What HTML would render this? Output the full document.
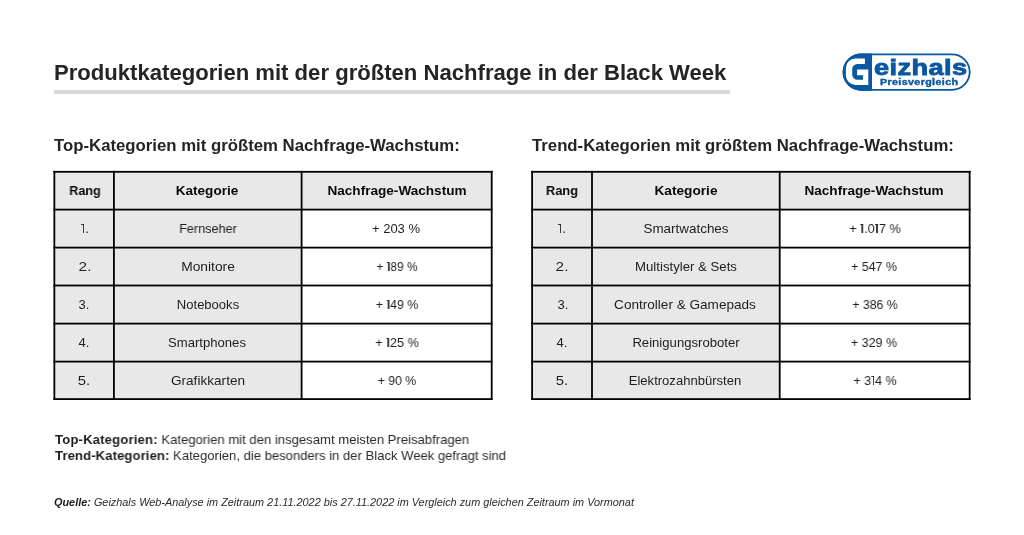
<!DOCTYPE html>
<html><head><meta charset="utf-8">
<style>
html,body{margin:0;padding:0;background:#fff;}
body{width:1024px;height:535px;position:relative;overflow:hidden;font-family:"Liberation Sans",sans-serif;}
.t{position:absolute;white-space:pre;line-height:1;will-change:transform;}
.d1{display:inline-block;position:relative;width:4.1px;height:9.3px;}
.d1::before{content:"";position:absolute;left:1.6px;top:0;width:1.2px;height:100%;background:currentColor;opacity:.85;}
.d1::after{content:"";position:absolute;left:0.3px;top:0.1px;width:2.4px;height:1.2px;background:currentColor;opacity:.85;}
.lines,.logo{position:absolute;left:0;top:0;}
.bar{position:absolute;left:53.6px;top:90px;width:676.2px;height:3.8px;background:#d9d9d9;}
</style></head><body>
<svg class="lines" width="1024" height="535" viewBox="0 0 1024 535"><rect x="54.35" y="171.8" width="247.25" height="227.30" fill="#e8e8e8"/><rect x="301.6" y="171.8" width="190.10" height="37.80" fill="#e8e8e8"/><rect x="53.45" y="170.90" width="1.8" height="229.10" fill="#000"/><rect x="113.00" y="170.90" width="1.8" height="229.10" fill="#000"/><rect x="300.70" y="170.90" width="1.8" height="229.10" fill="#000"/><rect x="490.80" y="170.90" width="1.8" height="229.10" fill="#000"/><rect x="53.45" y="170.90" width="439.15" height="1.8" fill="#000"/><rect x="53.45" y="208.70" width="439.15" height="1.8" fill="#000"/><rect x="53.45" y="246.70" width="439.15" height="1.8" fill="#000"/><rect x="53.45" y="284.60" width="439.15" height="1.8" fill="#000"/><rect x="53.45" y="322.70" width="439.15" height="1.8" fill="#000"/><rect x="53.45" y="360.70" width="439.15" height="1.8" fill="#000"/><rect x="53.45" y="398.20" width="439.15" height="1.8" fill="#000"/><rect x="532.1" y="171.8" width="247.60" height="227.30" fill="#e8e8e8"/><rect x="779.7" y="171.8" width="189.95" height="37.80" fill="#e8e8e8"/><rect x="531.20" y="170.90" width="1.8" height="229.10" fill="#000"/><rect x="591.10" y="170.90" width="1.8" height="229.10" fill="#000"/><rect x="778.80" y="170.90" width="1.8" height="229.10" fill="#000"/><rect x="968.75" y="170.90" width="1.8" height="229.10" fill="#000"/><rect x="531.20" y="170.90" width="439.35" height="1.8" fill="#000"/><rect x="531.20" y="208.70" width="439.35" height="1.8" fill="#000"/><rect x="531.20" y="246.70" width="439.35" height="1.8" fill="#000"/><rect x="531.20" y="284.60" width="439.35" height="1.8" fill="#000"/><rect x="531.20" y="322.70" width="439.35" height="1.8" fill="#000"/><rect x="531.20" y="360.70" width="439.35" height="1.8" fill="#000"/><rect x="531.20" y="398.20" width="439.35" height="1.8" fill="#000"/></svg>
<div class="bar"></div>
<svg class="logo" width="1024" height="535" viewBox="0 0 1024 535">
<rect x="843.5" y="54.4" width="126.2" height="35.4" rx="17.7" ry="17.7" fill="#fff" stroke="#0a57a2" stroke-width="1.8"/>
<path d="M872.0 53.5 L861.2 53.5 A18.6 18.6 0 0 0 861.2 90.7 L872.0 90.7 Z" fill="#0a57a2"/>
<path fill="#fff" d="M864.9 58.4 L855.4 58.4 A9.5 9.5 0 0 0 845.9 67.9 L845.9 75.4 A9.5 9.5 0 0 0 855.4 84.9 L868.3 84.9 L868.3 69.6 L857.1 69.6 L857.1 75.2 L863.1 75.2 L863.1 79.7 L857.4 79.7 A5.2 5.2 0 0 1 852.2 74.5 L852.2 69.2 A5.2 5.2 0 0 1 857.4 64.0 L864.9 64.0 Z"/>
</svg>

<div class="t" style="left:53.94px;top:61.59px;font-size:22.1px;font-weight:bold;font-style:normal;color:#242424;">Produktkategorien mit der größten Nachfrage in der Black Week</div>
<div class="t" style="left:54.16px;top:137.62px;font-size:16.75px;font-weight:bold;font-style:normal;color:#242424;transform:scaleX(0.9995);transform-origin:0 0;">Top-Kategorien mit größtem Nachfrage-Wachstum:</div>
<div class="t" style="left:531.62px;top:137.62px;font-size:16.75px;font-weight:bold;font-style:normal;color:#242424;">Trend-Kategorien mit größtem Nachfrage-Wachstum:</div>
<div class="t" style="left:-415.39px;width:1000px;text-align:center;top:184.16px;font-size:13px;font-weight:bold;font-style:normal;color:#0a0a0a;transform:scaleX(0.9694);transform-origin:500px 0;">Rang</div>
<div class="t" style="left:-292.57px;width:1000px;text-align:center;top:184.16px;font-size:13px;font-weight:bold;font-style:normal;color:#0a0a0a;transform:scaleX(1.0427);transform-origin:500px 0;">Kategorie</div>
<div class="t" style="left:-103.27px;width:1000px;text-align:center;top:184.16px;font-size:13px;font-weight:bold;font-style:normal;color:#0a0a0a;transform:scaleX(1.0447);transform-origin:500px 0;">Nachfrage-Wachstum</div>
<div class="t" style="left:-415.39px;width:1000px;text-align:center;top:222.06px;font-size:13px;font-weight:normal;font-style:normal;color:#1e1e1e;"><span class="d1"></span>.</div>
<div class="t" style="left:-292.45px;width:1000px;text-align:center;top:222.06px;font-size:13px;font-weight:normal;font-style:normal;color:#1e1e1e;transform:scaleX(0.9758);transform-origin:500px 0;">Fernseher</div>
<div class="t" style="left:-103.75px;width:1000px;text-align:center;top:222.06px;font-size:13px;font-weight:normal;font-style:normal;color:#1e1e1e;">+ 203 %</div>
<div class="t" style="left:-415.24px;width:1000px;text-align:center;top:260.01px;font-size:13px;font-weight:normal;font-style:normal;color:#1e1e1e;transform:scaleX(1.1778);transform-origin:500px 0;">2.</div>
<div class="t" style="left:-292.25px;width:1000px;text-align:center;top:260.01px;font-size:13px;font-weight:normal;font-style:normal;color:#1e1e1e;transform:scaleX(1.0612);transform-origin:500px 0;">Monitore</div>
<div class="t" style="left:-103.27px;width:1000px;text-align:center;top:260.01px;font-size:13px;font-weight:normal;font-style:normal;color:#1e1e1e;transform:scaleX(0.9155);transform-origin:500px 0;">+ <span class="d1"></span>89 %</div>
<div class="t" style="left:-415.71px;width:1000px;text-align:center;top:298.01px;font-size:13px;font-weight:normal;font-style:normal;color:#1e1e1e;">3.</div>
<div class="t" style="left:-292.37px;width:1000px;text-align:center;top:298.01px;font-size:13px;font-weight:normal;font-style:normal;color:#1e1e1e;transform:scaleX(1.0024);transform-origin:500px 0;">Notebooks</div>
<div class="t" style="left:-102.95px;width:1000px;text-align:center;top:298.01px;font-size:13px;font-weight:normal;font-style:normal;color:#1e1e1e;transform:scaleX(0.9409);transform-origin:500px 0;">+ <span class="d1"></span>49 %</div>
<div class="t" style="left:-415.88px;width:1000px;text-align:center;top:336.06px;font-size:13px;font-weight:normal;font-style:normal;color:#1e1e1e;">4.</div>
<div class="t" style="left:-292.97px;width:1000px;text-align:center;top:336.06px;font-size:13px;font-weight:normal;font-style:normal;color:#1e1e1e;transform:scaleX(1.0080);transform-origin:500px 0;">Smartphones</div>
<div class="t" style="left:-103.43px;width:1000px;text-align:center;top:336.06px;font-size:13px;font-weight:normal;font-style:normal;color:#1e1e1e;transform:scaleX(0.9705);transform-origin:500px 0;">+ <span class="d1"></span>25 %</div>
<div class="t" style="left:-415.68px;width:1000px;text-align:center;top:373.81px;font-size:13px;font-weight:normal;font-style:normal;color:#1e1e1e;transform:scaleX(1.1389);transform-origin:500px 0;">5.</div>
<div class="t" style="left:-292.33px;width:1000px;text-align:center;top:373.81px;font-size:13px;font-weight:normal;font-style:normal;color:#1e1e1e;transform:scaleX(1.0466);transform-origin:500px 0;">Grafikkarten</div>
<div class="t" style="left:-102.95px;width:1000px;text-align:center;top:373.81px;font-size:13px;font-weight:normal;font-style:normal;color:#1e1e1e;transform:scaleX(0.9425);transform-origin:500px 0;">+ 90 %</div>
<div class="t" style="left:61.69px;width:1000px;text-align:center;top:184.16px;font-size:13px;font-weight:bold;font-style:normal;color:#0a0a0a;transform:scaleX(0.9889);transform-origin:500px 0;">Rang</div>
<div class="t" style="left:185.81px;width:1000px;text-align:center;top:184.16px;font-size:13px;font-weight:bold;font-style:normal;color:#0a0a0a;transform:scaleX(1.0510);transform-origin:500px 0;">Kategorie</div>
<div class="t" style="left:374.49px;width:1000px;text-align:center;top:184.16px;font-size:13px;font-weight:bold;font-style:normal;color:#0a0a0a;transform:scaleX(1.0453);transform-origin:500px 0;">Nachfrage-Wachstum</div>
<div class="t" style="left:62.17px;width:1000px;text-align:center;top:222.06px;font-size:13px;font-weight:normal;font-style:normal;color:#1e1e1e;"><span class="d1"></span>.</div>
<div class="t" style="left:185.81px;width:1000px;text-align:center;top:222.06px;font-size:13px;font-weight:normal;font-style:normal;color:#1e1e1e;transform:scaleX(1.0329);transform-origin:500px 0;">Smartwatches</div>
<div class="t" style="left:375.23px;width:1000px;text-align:center;top:222.06px;font-size:13px;font-weight:normal;font-style:normal;color:#1e1e1e;transform:scaleX(0.9800);transform-origin:500px 0;">+ <span class="d1"></span>.0<span class="d1"></span>7 %</div>
<div class="t" style="left:62.33px;width:1000px;text-align:center;top:260.01px;font-size:13px;font-weight:normal;font-style:normal;color:#1e1e1e;transform:scaleX(1.1778);transform-origin:500px 0;">2.</div>
<div class="t" style="left:185.57px;width:1000px;text-align:center;top:260.01px;font-size:13px;font-weight:normal;font-style:normal;color:#1e1e1e;transform:scaleX(1.0152);transform-origin:500px 0;">Multistyler &amp; Sets</div>
<div class="t" style="left:374.11px;width:1000px;text-align:center;top:260.01px;font-size:13px;font-weight:normal;font-style:normal;color:#1e1e1e;transform:scaleX(0.9553);transform-origin:500px 0;">+ 547 %</div>
<div class="t" style="left:62.65px;width:1000px;text-align:center;top:298.01px;font-size:13px;font-weight:normal;font-style:normal;color:#1e1e1e;">3.</div>
<div class="t" style="left:185.41px;width:1000px;text-align:center;top:298.01px;font-size:13px;font-weight:normal;font-style:normal;color:#1e1e1e;transform:scaleX(1.0436);transform-origin:500px 0;">Controller &amp; Gamepads</div>
<div class="t" style="left:374.75px;width:1000px;text-align:center;top:298.01px;font-size:13px;font-weight:normal;font-style:normal;color:#1e1e1e;transform:scaleX(0.9447);transform-origin:500px 0;">+ 386 %</div>
<div class="t" style="left:62.05px;width:1000px;text-align:center;top:336.06px;font-size:13px;font-weight:normal;font-style:normal;color:#1e1e1e;">4.</div>
<div class="t" style="left:186.05px;width:1000px;text-align:center;top:336.06px;font-size:13px;font-weight:normal;font-style:normal;color:#1e1e1e;transform:scaleX(1.0091);transform-origin:500px 0;">Reinigungsroboter</div>
<div class="t" style="left:374.11px;width:1000px;text-align:center;top:336.06px;font-size:13px;font-weight:normal;font-style:normal;color:#1e1e1e;transform:scaleX(0.9638);transform-origin:500px 0;">+ 329 %</div>
<div class="t" style="left:61.89px;width:1000px;text-align:center;top:373.81px;font-size:13px;font-weight:normal;font-style:normal;color:#1e1e1e;transform:scaleX(1.1389);transform-origin:500px 0;">5.</div>
<div class="t" style="left:185.17px;width:1000px;text-align:center;top:373.81px;font-size:13px;font-weight:normal;font-style:normal;color:#1e1e1e;transform:scaleX(1.0045);transform-origin:500px 0;">Elektrozahnbürsten</div>
<div class="t" style="left:374.75px;width:1000px;text-align:center;top:373.81px;font-size:13px;font-weight:normal;font-style:normal;color:#1e1e1e;transform:scaleX(0.9614);transform-origin:500px 0;">+ 3<span class="d1"></span>4 %</div>
<div class="t" style="left:55.02px;top:432.67px;font-size:13.15px;font-weight:normal;font-style:normal;color:#2a2a2a;transform:scaleX(0.9965);transform-origin:0 0;"><b style="color:#1e1e1e;letter-spacing:0.17px">Top-Kategorien:</b> Kategorien mit den insgesamt meisten Preisabfragen</div>
<div class="t" style="left:55.02px;top:448.67px;font-size:13.15px;font-weight:normal;font-style:normal;color:#2a2a2a;transform:scaleX(0.9938);transform-origin:0 0;"><b style="color:#1e1e1e;letter-spacing:0.12px">Trend-Kategorien:</b> Kategorien, die besonders in der Black Week gefragt sind</div>
<div class="t" style="left:54.16px;top:496.91px;font-size:10.85px;font-weight:normal;font-style:italic;color:#2a2a2a;transform:scaleX(1.0026);transform-origin:0 0;"><b style="color:#1e1e1e">Quelle:</b> Geizhals Web-Analyse im Zeitraum 21.11.2022 bis 27.11.2022 im Vergleich zum gleichen Zeitraum im Vormonat</div>
<div class="t" style="left:873.58px;top:58.20px;font-size:21.5px;font-weight:bold;font-style:normal;color:#0a57a2;letter-spacing:0.3px;transform:scaleX(1.2660);transform-origin:0 0;-webkit-text-stroke:0.8px #0a57a2;">eizhals</div>
<div class="t" style="left:879.54px;top:78.12px;font-size:8.6px;font-weight:bold;font-style:normal;color:#0a57a2;letter-spacing:0.3px;transform:scaleX(1.2446);transform-origin:0 0;-webkit-text-stroke:0.35px #0a57a2;">Preisvergleich</div>

</body></html>
